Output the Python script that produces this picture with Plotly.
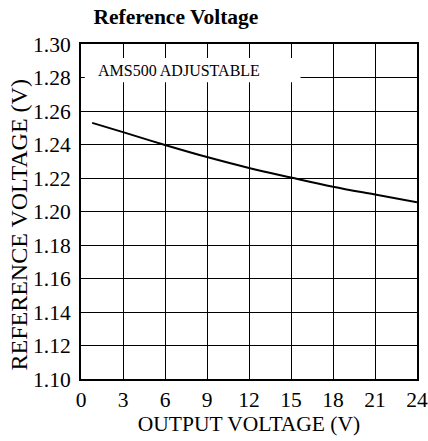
import plotly.graph_objects as go

output_voltage = [0.8, 3, 6, 9, 12, 15, 18, 21, 24]
reference_voltage = [1.2529, 1.2474, 1.2397, 1.2325, 1.2260, 1.2203, 1.2148, 1.2101, 1.2055]

x_ticks = [0, 3, 6, 9, 12, 15, 18, 21, 24]
y_ticks = [1.10, 1.12, 1.14, 1.16, 1.18, 1.20, 1.22, 1.24, 1.26, 1.28, 1.30]

ff = "Liberation Serif"

fig = go.Figure()
fig.add_trace(go.Scatter(
    x=output_voltage, y=reference_voltage, mode="lines",
    line=dict(color="black", width=2, shape="spline"),
    showlegend=False, hoverinfo="skip",
))

fig.add_shape(type="rect", xref="x", yref="y", x0=0.27, x1=15.68, y0=1.2771, y1=1.2917,
              fillcolor="white", line=dict(width=0), layer="above")
fig.add_annotation(x=1.05, y=1.2844, xref="x", yref="y", text="AMS500 ADJUSTABLE",
                   showarrow=False, xanchor="left", yanchor="middle",
                   font=dict(family=ff, size=16, color="black"))

# y-axis title (placed as annotation to match reference offset)
fig.add_annotation(x=-0.186, y=0.4597, xref="paper", yref="paper", text="REFERENCE VOLTAGE (V)",
                   showarrow=False, textangle=-90, xanchor="center", yanchor="middle",
                   font=dict(family=ff, size=24, color="black"))

fig.update_layout(
    width=428, height=441,
    margin=dict(l=81, r=11, t=44, b=62),
    paper_bgcolor="white", plot_bgcolor="white",
    font=dict(family=ff, color="black"),
    title=dict(text="<b>Reference Voltage</b>", x=0.411, xanchor="center", y=0.963, yanchor="middle",
               font=dict(family=ff, size=21.5, color="black")),
    xaxis=dict(range=[0, 24], tickvals=x_ticks, ticktext=[str(v) for v in x_ticks],
               showgrid=True, gridcolor="black", gridwidth=1, automargin=False,
               showline=True, linecolor="black", linewidth=2, mirror=True,
               ticks="", zeroline=False, tickfont=dict(family=ff, size=21.5, color="black"),
               title=dict(text="OUTPUT VOLTAGE (V)", font=dict(family=ff, size=21.5, color="black"), standoff=2)),
    yaxis=dict(range=[1.10, 1.30], tickvals=y_ticks, ticktext=[f"{v:.2f}" for v in y_ticks],
               showgrid=True, gridcolor="black", gridwidth=1, automargin=False,
               showline=True, linecolor="black", linewidth=2, mirror=True,
               ticks="", zeroline=False, ticklabelstandoff=4,
               tickfont=dict(family=ff, size=21.5, color="black")),
)

fig.write_html("out.html", config={"displayModeBar": False},
               post_script="document.body.style.margin='0px';document.body.style.overflow='hidden';")
